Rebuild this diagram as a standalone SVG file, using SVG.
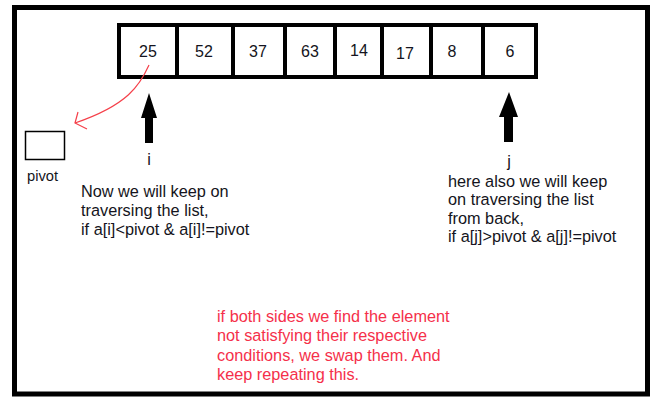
<svg xmlns="http://www.w3.org/2000/svg" width="653" height="397" viewBox="0 0 653 397">
<style>
.t{font-family:"Liberation Sans",Arial,sans-serif;font-size:16.3px;fill:#141420}
.n{font-family:"Liberation Sans",Arial,sans-serif;font-size:16px;fill:#141420;text-anchor:middle}
.r{font-family:"Liberation Sans",Arial,sans-serif;font-size:16.3px;fill:#f5304a}
.cell{fill:#fff;stroke:#000;stroke-width:4}
</style>
<rect width="653" height="397" fill="#fff"/>
<rect id="frame" x="14.5" y="7.5" width="633" height="386.5" fill="none" stroke="#000" stroke-width="5"/>
<g id="array">
<rect class="cell" x="119" y="25" width="58" height="52"/>
<rect class="cell" x="177" y="25" width="56" height="52"/>
<rect class="cell" x="233" y="25" width="52" height="52"/>
<rect class="cell" x="285" y="25" width="50" height="52"/>
<rect class="cell" x="335" y="25" width="47" height="52"/>
<rect class="cell" x="382" y="25" width="49" height="52"/>
<rect class="cell" x="431" y="25" width="52" height="52"/>
<rect class="cell" x="483" y="25" width="53" height="52"/>
<text class="n" x="148" y="57">25</text>
<text class="n" x="204" y="57">52</text>
<text class="n" x="258" y="57">37</text>
<text class="n" x="310" y="57">63</text>
<text class="n" x="359" y="56">14</text>
<text class="n" x="405" y="59">17</text>
<text class="n" x="452" y="57">8</text>
<text class="n" x="510" y="57">6</text>
</g>
<g id="pivot">
<rect x="25.5" y="131.5" width="39" height="28" fill="#fff" stroke="#000" stroke-width="1.5"/>
<text class="t" x="27" y="181" style="font-size:14.7px">pivot</text>
</g>
<g id="connectors">
<path d="M149,65 C140,85 128,105 75,123" fill="none" stroke="#f5404a" stroke-width="1.2"/>
<path d="M78,112 L75,123 L87,129" fill="none" stroke="#f5404a" stroke-width="1.2"/>
<polygon id="arrow-i" points="149,93 157,118 153,118 153,143 145,143 145,118 141,118" fill="#000"/>
<polygon id="arrow-j" points="509,92 518,117 513,117 513,142 504,142 504,117 499,117" fill="#000"/>
</g>
<g id="label-i">
<text class="t" x="149" y="165" text-anchor="middle">i</text>
<text class="t" x="81" y="196.5">Now we will keep on</text>
<text class="t" x="81" y="215.5">traversing the list,</text>
<text class="t" x="81" y="234.5">if a[i]&lt;pivot &amp; a[i]!=pivot</text>
</g>
<g id="label-j">
<text class="t" x="509" y="166.5" text-anchor="middle">j</text>
<text class="t" x="448" y="186.5">here also we will keep</text>
<text class="t" x="448" y="205">on traversing the list</text>
<text class="t" x="448" y="223.5">from back,</text>
<text class="t" x="448" y="242">if a[j]&gt;pivot &amp; a[j]!=pivot</text>
</g>
<g id="note">
<text class="r" x="217" y="321.5">if both sides we find the element</text>
<text class="r" x="217" y="341">not satisfying their respective</text>
<text class="r" x="217" y="360.5">conditions, we swap them. And</text>
<text class="r" x="217" y="380">keep repeating this.</text>
</g>
</svg>
